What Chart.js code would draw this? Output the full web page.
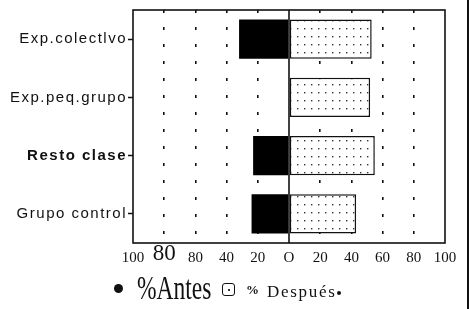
<!DOCTYPE html>
<html lang="es">
<head>
    <meta charset="UTF-8">
    <title>Antes / Después</title>
    <script src="https://cdn.jsdelivr.net/npm/chart.js"></script>
    <style>
        body { margin: 0; background: #fff; }
        #wrap { position: relative; width: 469px; height: 309px; overflow: hidden; }
        #edge { position: absolute; left: 467px; top: 0; width: 2px; height: 309px; background: #111; }
        .lg { position: absolute; font-family: "Liberation Serif", serif; color: #111; line-height: 1; white-space: nowrap; }
        #dotA { position: absolute; left: 114px; top: 284px; width: 9px; height: 9px; border-radius: 50%; background: #111; }
        #boxB { position: absolute; left: 222px; top: 283px; width: 11px; height: 11px; border: 1.3px solid #111; border-radius: 3px; }
        #boxB::after { content: ""; position: absolute; left: 5px; top: 5px; width: 1.5px; height: 1.5px; background: #333; }
        #tailDot { position: absolute; left: 337px; top: 291px; width: 4px; height: 4px; border-radius: 50%; background: #111; }
    </style>
</head>
<body>
<div id="wrap">
    <canvas id="myChart" width="469" height="309"></canvas>
    <div id="edge"></div>
    <div id="dotA"></div>
    <span class="lg" style="left:137px;top:271px;font-size:34px;transform:scaleX(0.69);transform-origin:left top;">%Antes</span>
    <div id="boxB"></div>
    <span class="lg" style="left:246px;top:283px;font-size:13px;font-weight:bold;">%</span>
    <span class="lg" style="left:267px;top:283px;font-size:17px;letter-spacing:1.7px;">Después</span>
    <div id="tailDot"></div>
</div>

<script>
    // data
    var categories = ['Exp.colectlvo', 'Exp.peq.grupo', 'Resto clase', 'Grupo control'];
    var antes = [32, 0, 23, 24];        // drawn to the left of zero
    var despues = [53, 52, 55, 43];
    var xTickLabels = ['100', '80', '80', '40', '20', 'O', '20', '40', '60', '80', '100'];

    // dotted fill for "Después"
    var pc = document.createElement('canvas');
    pc.width = 7; pc.height = 8;
    var pctx = pc.getContext('2d');
    pctx.fillStyle = '#fff';
    pctx.fillRect(0, 0, 7, 8);
    pctx.fillStyle = '#333';
    pctx.fillRect(3, 4, 1.4, 1.4);
    var ctx = document.getElementById('myChart').getContext('2d');
    var dots = ctx.createPattern(pc, 'repeat');

    var framePlugin = {
        id: 'frame',
        afterDatasetsDraw: function (chart) {
            var a = chart.chartArea, c = chart.ctx;
            var x0 = chart.scales.x.getPixelForValue(0);
            c.save();
            c.strokeStyle = '#111';
            c.lineWidth = 1.6;
            c.strokeRect(a.left, a.top, a.right - a.left, a.bottom - a.top);
            c.beginPath();
            c.moveTo(x0, a.top);
            c.lineTo(x0, a.bottom);
            c.stroke();
            c.restore();
            // y labels (drawn after this) are widely spaced
            c.letterSpacing = '1.5px';
        },
        afterDraw: function (chart) {
            chart.ctx.letterSpacing = '0px';
        }
    };

    var myChart = new Chart(ctx, {
        type: 'bar',
        data: {
            labels: categories,
            datasets: [{
                label: '% Antes',
                data: antes.map(function (v) { return -v; }),
                backgroundColor: '#000',
                borderWidth: 0
            }, {
                label: '% Después',
                data: despues,
                backgroundColor: dots,
                borderColor: '#111',
                borderWidth: 1.5,
                borderSkipped: false
            }]
        },
        options: {
            indexAxis: 'y',
            responsive: false,
            animation: false,
            devicePixelRatio: 1,
            barPercentage: 0.67,
            categoryPercentage: 1,
            layout: { padding: { top: 5, right: 24, bottom: 42, left: 0 } },
            plugins: { legend: { display: false }, tooltip: { enabled: false } },
            scales: {
                x: {
                    stacked: true,
                    min: -100,
                    max: 100,
                    afterFit: function (s) { s.height = 24; },
                    ticks: {
                        stepSize: 20,
                        padding: 6,
                        color: '#111',
                        callback: function (v, i) { return xTickLabels[i]; },
                        font: function (c) {
                            return c.index === 1
                                ? { family: 'Liberation Serif', size: 23, lineHeight: 0.45 }
                                : { family: 'Liberation Serif', size: 15, lineHeight: 1.2 };
                        }
                    },
                    grid: {
                        drawTicks: false,
                        lineWidth: 1.6,
                        color: function (c) {
                            var v = c.tick && c.tick.value;
                            return (v === 0 || v === 100 || v === -100) ? 'rgba(0,0,0,0)' : '#111';
                        }
                    },
                    border: { display: false, dash: [3, 14] }
                },
                y: {
                    stacked: true,
                    afterFit: function (s) { s.width = 133; },
                    ticks: {
                        z: 1,
                        padding: 1,
                        color: '#111',
                        font: function (c) {
                            return { family: 'Liberation Sans', size: 15, weight: c.index === 2 ? 'bold' : 'normal' };
                        }
                    },
                    grid: { offset: false, drawOnChartArea: false, tickLength: 5, tickColor: '#111', tickWidth: 1.5 },
                    border: { display: false }
                }
            }
        },
        plugins: [framePlugin]
    });
</script>
</body>
</html>
